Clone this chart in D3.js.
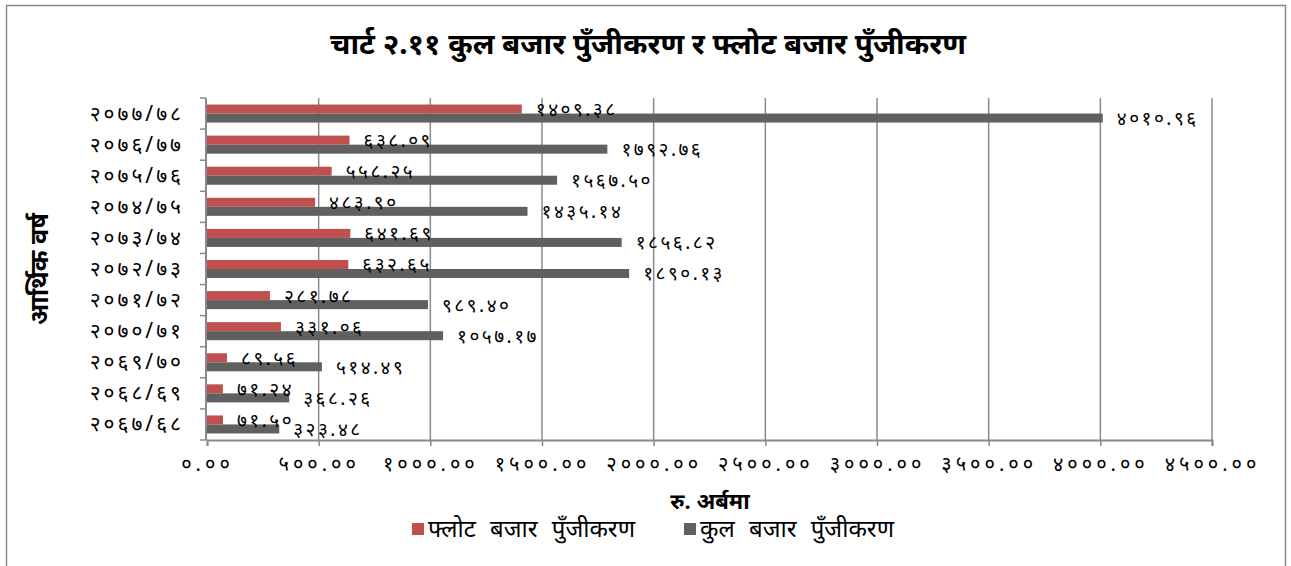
<!DOCTYPE html>
<html>
<head>
<meta charset="utf-8">
<title>कुल बजार पुँजीकरण र फ्लोट बजार पुँजीकरण</title>
<script src="https://cdnjs.cloudflare.com/ajax/libs/d3/7.8.5/d3.min.js"></script>
<style>
    body { margin: 0; background: #fff; }
    svg text { font-family: "Noto Sans", "DejaVu Sans", sans-serif; fill: #000; }
</style>
</head>
<body>
<script>
// categories, top to bottom as shown
var years = ['२०७७/७८', '२०७६/७७', '२०७५/७६', '२०७४/७५', '२०७३/७४', '२०७२/७३',
             '२०७१/७२', '२०७०/७१', '२०६९/७०', '२०६८/६९', '२०६७/६८'];
// फ्लोट बजार पुँजीकरण
var floatCap = [1409.38, 638.09, 558.25, 483.90, 641.69, 632.65, 281.78, 331.06, 89.56, 71.24, 71.50];
// कुल बजार पुँजीकरण
var totalCap = [4010.96, 1792.76, 1567.50, 1435.14, 1856.82, 1890.13, 989.40, 1057.17, 514.49, 368.26, 323.48];
var xTicks = [0, 500, 1000, 1500, 2000, 2500, 3000, 3500, 4000, 4500];
var seriesNames = ['फ्लोट बजार पुँजीकरण', 'कुल बजार पुँजीकरण'];
var colors = ['#c0504d', '#606060'];

var width = 1291, height = 566;
var pLeft = 207, pRight = 1212, pTop = 98, pBottom = 440;

var nepDigits = '०१२३४५६७८९';
function nep(s) {
    return String(s).replace(/[0-9]/g, function(c){ return nepDigits[+c]; });
}

var svg = d3.select('body').append('svg')
    .attr('width', width)
    .attr('height', height);

// outer chart border
svg.append('rect')
    .attr('x', 6.5).attr('y', 5.5)
    .attr('width', 1279).attr('height', 570)
    .attr('fill', 'none')
    .attr('stroke', '#8a8a8a')
    .attr('stroke-width', 1.5);

var x = d3.scaleLinear().domain([0, 4500]).range([pLeft, pRight]);
var y = d3.scaleBand().domain(years).range([pTop, pBottom]).paddingInner(0.42).paddingOuter(0.21);
var inner = d3.scaleBand().domain([0, 1]).range([0, y.bandwidth()]);

// grid
svg.append('g').selectAll('line')
    .data(xTicks.slice(1))
    .enter().append('line')
    .attr('x1', function(d){ return x(d); })
    .attr('x2', function(d){ return x(d); })
    .attr('y1', pTop).attr('y2', pBottom)
    .attr('stroke', '#8a8a8a')
    .attr('stroke-width', 1.5);

// bars
var rows = years.map(function(yr, i){ return { year: yr, vals: [floatCap[i], totalCap[i]] }; });

var grp = svg.append('g').selectAll('g')
    .data(rows)
    .enter().append('g')
    .attr('transform', function(d){ return 'translate(0,' + y(d.year) + ')'; });

grp.selectAll('rect')
    .data(function(d){ return d.vals; })
    .enter().append('rect')
    .attr('x', x(0))
    .attr('y', function(d, i){ return inner(i); })
    .attr('width', function(d){ return x(d) - x(0); })
    .attr('height', inner.bandwidth())
    .attr('fill', function(d, i){ return colors[i]; });

grp.selectAll('text')
    .data(function(d){ return d.vals; })
    .enter().append('text')
    .attr('x', function(d){ return x(d) + 14; })
    .attr('y', function(d, i){ return inner(i) + inner.bandwidth() / 2 + 7; })
    .attr('font-size', 19)
    .attr('letter-spacing', 2.5)
    .text(function(d){ return nep(d.toFixed(2)); });

// x axis
var axisX = d3.axisBottom(x).tickValues(xTicks).tickSize(6)
    .tickFormat(function(d){ return nep(d.toFixed(2)); });
var gx = svg.append('g')
    .attr('transform', 'translate(0,' + pBottom + ')')
    .call(axisX);
gx.select('.domain').attr('stroke', '#8a8a8a').attr('stroke-width', 2);
gx.selectAll('.tick line').attr('stroke', '#8a8a8a').attr('stroke-width', 1.5);
gx.selectAll('.tick text')
    .attr('font-size', 20).attr('letter-spacing', 4)
    .attr('font-family', '"Noto Sans", sans-serif')
    .attr('dy', '1.05em').attr('y', 10);

// y axis
var gy = svg.append('g');
gy.append('line')
    .attr('x1', pLeft - 1).attr('x2', pLeft - 1)
    .attr('y1', pTop).attr('y2', pBottom)
    .attr('stroke', '#8a8a8a').attr('stroke-width', 2);
var step = y.step();
gy.selectAll('line.tk')
    .data(d3.range(years.length + 1))
    .enter().append('line')
    .attr('class', 'tk')
    .attr('x1', pLeft - 7).attr('x2', pLeft - 1)
    .attr('y1', function(i){ return pTop + i * step; })
    .attr('y2', function(i){ return pTop + i * step; })
    .attr('stroke', '#8a8a8a').attr('stroke-width', 1.5);
gy.selectAll('text')
    .data(years)
    .enter().append('text')
    .attr('x', 184)
    .attr('y', function(d){ return y(d) + y.bandwidth() / 2 + 7; })
    .attr('text-anchor', 'end')
    .attr('font-size', 21)
    .attr('letter-spacing', 3)
    .text(function(d){ return d; });

// titles
svg.append('text')
    .attr('x', 648).attr('y', 54)
    .attr('text-anchor', 'middle')
    .attr('font-size', 29.5)
    .attr('font-weight', 'bold')
    .text('चार्ट २.११ कुल बजार पुँजीकरण र फ्लोट बजार पुँजीकरण');

svg.append('text')
    .attr('transform', 'translate(48,' + ((pTop + pBottom) / 2) + ') rotate(-90)')
    .attr('text-anchor', 'middle')
    .attr('font-size', 25)
    .attr('font-weight', 'bold')
    .text('आर्थिक वर्ष');

svg.append('text')
    .attr('x', 710).attr('y', 509)
    .attr('text-anchor', 'middle')
    .attr('font-size', 22)
    .attr('font-weight', 'bold')
    .text('रु. अर्बमा');

// legend
var legX = [412, 684];
var leg = svg.append('g').selectAll('g')
    .data(seriesNames)
    .enter().append('g')
    .attr('transform', function(d, i){ return 'translate(' + legX[i] + ',523)'; });
leg.append('rect')
    .attr('width', 12).attr('height', 12)
    .attr('fill', function(d, i){ return colors[i]; });
leg.append('text')
    .attr('x', 16).attr('y', 14)
    .attr('font-size', 24)
    .attr('word-spacing', 8)
    .text(function(d){ return d; });
</script>
</body>
</html>
